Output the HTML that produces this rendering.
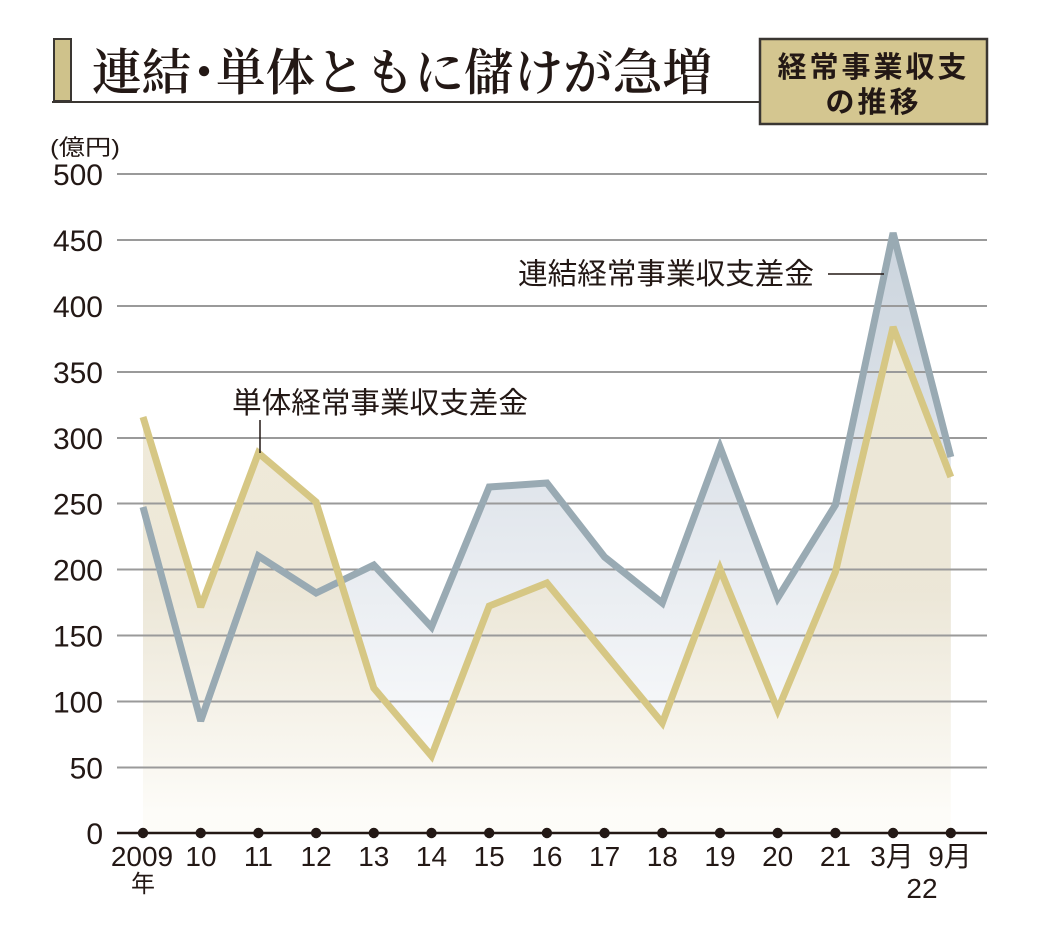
<!DOCTYPE html>
<html>
<head>
<meta charset="utf-8">
<style>
html,body{margin:0;padding:0;background:#fff;}
svg{display:block;}
.g{font-family:"Liberation Sans","Noto Sans CJK JP",sans-serif;fill:#231815;}
.s{font-family:"Liberation Serif","Noto Serif CJK SC",serif;fill:#231815;}
</style>
</head>
<body>
<svg width="1040" height="930" viewBox="0 0 1040 930" xmlns="http://www.w3.org/2000/svg">
<defs>
  <linearGradient id="bg" gradientUnits="userSpaceOnUse" x1="0" y1="230" x2="0" y2="815">
    <stop offset="0" stop-color="#cbd4dd"/>
    <stop offset="0.45" stop-color="#e1e6ec"/>
    <stop offset="1" stop-color="#ffffff"/>
  </linearGradient>
  <linearGradient id="gg" gradientUnits="userSpaceOnUse" x1="0" y1="320" x2="0" y2="815">
    <stop offset="0" stop-color="#efe9d6"/>
    <stop offset="0.55" stop-color="#ece6d5"/>
    <stop offset="1" stop-color="#fdfcf8"/>
  </linearGradient>
</defs>

<!-- Title -->
<rect x="54" y="39" width="17" height="62" fill="#cfc28b" stroke="#3a3632" stroke-width="2"/>
<line x1="52" y1="102" x2="760" y2="102" stroke="#3a3632" stroke-width="2"/>
<text class="s" x="92" y="90" font-size="50" font-weight="600" textLength="620" lengthAdjust="spacingAndGlyphs">連結<tspan dx="-12">・</tspan><tspan dx="-13">単体ともに儲けが急増</tspan></text>

<!-- Box -->
<rect x="760" y="39" width="227" height="85" fill="#d4c690" stroke="#3a3632" stroke-width="2.5"/>
<text class="g" x="873.5" y="77" font-size="29" font-weight="bold" text-anchor="middle" letter-spacing="3">経常事業収支</text>
<text class="g" x="873.5" y="112" font-size="29" font-weight="bold" text-anchor="middle" letter-spacing="3">の推移</text>

<!-- unit -->
<text class="g" x="50" y="155" font-size="22" textLength="70" lengthAdjust="spacingAndGlyphs">(億円)</text>

<!-- fills -->
<polygon fill="url(#bg)" points="143,833 143,507 200.7,721 258.4,556 316.1,593 373.8,565 431.5,627 489.2,487 546.9,483 604.6,557 662.3,603 720,447 777.7,598 835.4,505 893.1,233 950.8,457 950.8,833"/>
<polygon fill="url(#gg)" fill-opacity="0.92" points="143,833 143,417 200.7,607 258.4,453 316.1,502 373.8,688 431.5,756 489.2,606 546.9,583 604.6,653 662.3,723 720,569 777.7,710 835.4,572 893.1,327 950.8,477 950.8,833"/>

<!-- gridlines -->
<g stroke="#9a9a9a" stroke-width="2">
  <line x1="117" y1="174" x2="987" y2="174"/>
  <line x1="117" y1="240" x2="987" y2="240"/>
  <line x1="117" y1="306" x2="987" y2="306"/>
  <line x1="117" y1="372" x2="987" y2="372"/>
  <line x1="117" y1="438" x2="987" y2="438"/>
  <line x1="117" y1="503.5" x2="987" y2="503.5"/>
  <line x1="117" y1="569.5" x2="987" y2="569.5"/>
  <line x1="117" y1="635.5" x2="987" y2="635.5"/>
  <line x1="117" y1="701.5" x2="987" y2="701.5"/>
  <line x1="117" y1="767.5" x2="987" y2="767.5"/>
</g>

<!-- y labels -->
<g class="g" font-size="30" text-anchor="end">
  <text x="103" y="185">500</text>
  <text x="103" y="251">450</text>
  <text x="103" y="317">400</text>
  <text x="103" y="383">350</text>
  <text x="103" y="449">300</text>
  <text x="103" y="514.5">250</text>
  <text x="103" y="580.5">200</text>
  <text x="103" y="646.5">150</text>
  <text x="103" y="712.5">100</text>
  <text x="103" y="778.5">50</text>
  <text x="103" y="844">0</text>
</g>

<!-- series lines -->
<polyline fill="none" stroke="#99aab3" stroke-width="7" stroke-linejoin="miter" stroke-miterlimit="3" points="143,507 200.7,721 258.4,556 316.1,593 373.8,565 431.5,627 489.2,487 546.9,483 604.6,557 662.3,603 720,447 777.7,598 835.4,505 893.1,233 950.8,457"/>
<polyline fill="none" stroke="#d6c784" stroke-width="7" stroke-linejoin="miter" stroke-miterlimit="3" points="143,417 200.7,607 258.4,453 316.1,502 373.8,688 431.5,756 489.2,606 546.9,583 604.6,653 662.3,723 720,569 777.7,710 835.4,572 893.1,327 950.8,477"/>

<!-- series labels -->
<text class="g" x="518" y="284" font-size="29.5" textLength="296" lengthAdjust="spacingAndGlyphs">連結経常事業収支差金</text>
<line x1="828" y1="274" x2="884" y2="274" stroke="#231815" stroke-width="1.5"/>
<text class="g" x="232" y="413" font-size="29.5" textLength="296" lengthAdjust="spacingAndGlyphs">単体経常事業収支差金</text>
<line x1="260" y1="420" x2="260" y2="453" stroke="#231815" stroke-width="1.5"/>

<!-- x axis -->
<line x1="117" y1="833" x2="987" y2="833" stroke="#231815" stroke-width="2.5"/>
<g fill="#231815">
  <circle cx="143" cy="833" r="5.2"/>
  <circle cx="200.7" cy="833" r="5.2"/>
  <circle cx="258.4" cy="833" r="5.2"/>
  <circle cx="316.1" cy="833" r="5.2"/>
  <circle cx="373.8" cy="833" r="5.2"/>
  <circle cx="431.5" cy="833" r="5.2"/>
  <circle cx="489.2" cy="833" r="5.2"/>
  <circle cx="546.9" cy="833" r="5.2"/>
  <circle cx="604.6" cy="833" r="5.2"/>
  <circle cx="662.3" cy="833" r="5.2"/>
  <circle cx="720" cy="833" r="5.2"/>
  <circle cx="777.7" cy="833" r="5.2"/>
  <circle cx="835.4" cy="833" r="5.2"/>
  <circle cx="893.1" cy="833" r="5.2"/>
  <circle cx="950.8" cy="833" r="5.2"/>
</g>
<g class="g" font-size="28" text-anchor="middle">
  <text x="142" y="866">2009</text>
  <text x="201" y="866">10</text>
  <text x="258.4" y="866">11</text>
  <text x="316.1" y="866">12</text>
  <text x="373.8" y="866">13</text>
  <text x="431.5" y="866">14</text>
  <text x="489.2" y="866">15</text>
  <text x="546.9" y="866">16</text>
  <text x="604.6" y="866">17</text>
  <text x="662.3" y="866">18</text>
  <text x="720" y="866">19</text>
  <text x="777.7" y="866">20</text>
  <text x="835.4" y="866">21</text>
  <text x="892" y="866">3月</text>
  <text x="950" y="866">9月</text>
  <text x="922" y="898">22</text>
</g>
<text class="g" x="143" y="892" font-size="24" text-anchor="middle">年</text>
</svg>
</body>
</html>
